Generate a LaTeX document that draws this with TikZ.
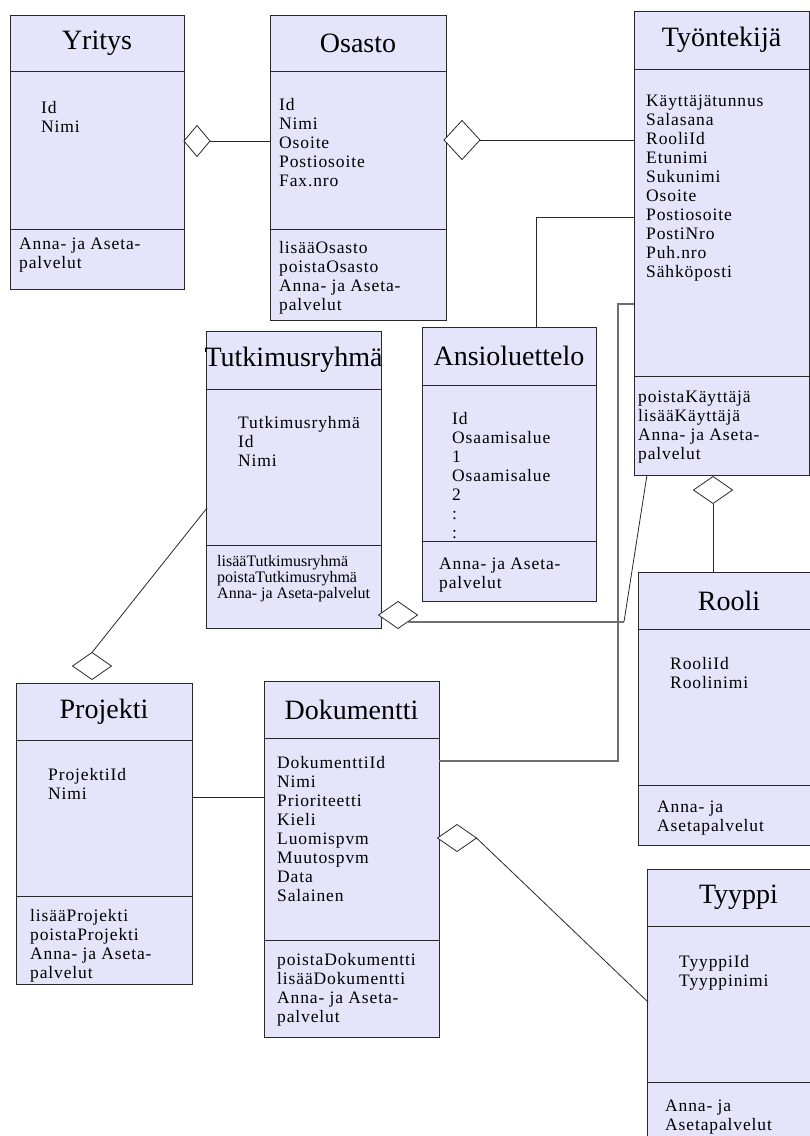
\documentclass[tikz,border=0pt]{standalone}
\usepackage{fontspec}
\setmainfont{Liberation Serif}
\newfontfamily\harva[LetterSpace=5]{Liberation Serif}
\usepackage{tikz}
\usetikzlibrary{positioning,shapes.geometric}
\definecolor{laventeli}{RGB}{228,228,250}
\definecolor{reuna}{RGB}{40,40,40}
\definecolor{harmaa}{RGB}{110,110,110}
\newcommand\otsikkofontti{\fontsize{28}{30}\selectfont}
\newcommand\runkofontti{\harva\fontsize{17.5}{19}\selectfont}
\newcommand\pienifontti{\fontsize{16}{16}\selectfont}
\tikzset{
  otsikko/.style={draw=reuna, fill=laventeli, line width=1pt, inner sep=0pt, outer sep=0pt, anchor=north west, font=\otsikkofontti},
  osio/.style={draw=reuna, fill=laventeli, line width=1pt, inner sep=0pt, outer sep=0pt},
  teksti/.style={anchor=north west, align=left, inner sep=0pt, font=\runkofontti},
  salmiakki/.style={diamond, draw=reuna, fill=white, line width=0.8pt, inner sep=0pt, outer sep=0pt},
  yhteys/.style={draw=reuna, line width=0.8pt},
  yhteysH/.style={draw=harmaa, line width=1.5pt},
}
\begin{document}
\begin{tikzpicture}[x=1pt, y=-1pt]
  \useasboundingbox (0,0) rectangle (810,1136);
  \clip (0,0) rectangle (810,1136);

  \node[otsikko, minimum width=174, minimum height=56] (yritys) at (10,15) {Yritys};
  \node[osio, below=0pt of yritys, minimum width=174, minimum height=158] (yritysA) {};
  \node[osio, below=0pt of yritysA, minimum width=174, minimum height=60] (yritysO) {};
  \node[teksti] (yritysAt) at (41,101) {Id\\Nimi};
  \node[teksti] (yritysOt) at (19,238) {Anna- ja Aseta-\\palvelut};

  \node[otsikko, minimum width=176, minimum height=56] (osasto) at (270,15) {Osasto};
  \node[osio, below=0pt of osasto, minimum width=176, minimum height=158] (osastoA) {};
  \node[osio, below=0pt of osastoA, minimum width=176, minimum height=91] (osastoO) {};
  \node[teksti] (osastoAt) at (279,98) {Id\\Nimi\\Osoite\\Postiosoite\\Fax.nro};
  \node[teksti] (osastoOt) at (279,241) {lisääOsasto\\poistaOsasto\\Anna- ja Aseta-\\palvelut};

  \node[otsikko, minimum width=175, minimum height=58] (tyo) at (634,11) {Työntekijä};
  \node[osio, below=0pt of tyo, minimum width=175, minimum height=307] (tyoA) {};
  \node[osio, below=0pt of tyoA, minimum width=175, minimum height=99] (tyoO) {};
  \node[teksti] (tyoAt) at (646,95) {Käyttäjätunnus\\Salasana\\RooliId\\Etunimi\\Sukunimi\\Osoite\\Postiosoite\\PostiNro\\Puh.nro\\Sähköposti};
  \node[teksti] (tyoOt) at (638,391) {poistaKäyttäjä\\lisääKäyttäjä\\Anna- ja Aseta-\\palvelut};

  \node[otsikko, minimum width=175, minimum height=58] (tut) at (206,331) {\makebox[0pt]{Tutkimusryhmä}};
  \node[osio, below=0pt of tut, minimum width=175, minimum height=156] (tutA) {};
  \node[osio, below=0pt of tutA, minimum width=175, minimum height=83] (tutO) {};
  \node[teksti] (tutAt) at (238,416) {Tutkimusryhmä\\Id\\Nimi};
  \node[teksti, font=\pienifontti] (tutOt) at (217,555) {lisääTutkimusryhmä\\poistaTutkimusryhmä\\Anna- ja Aseta-palvelut};

  \node[otsikko, minimum width=174, minimum height=58] (ansio) at (422,327) {Ansioluettelo};
  \node[osio, below=0pt of ansio, minimum width=174, minimum height=156] (ansioA) {};
  \node[osio, below=0pt of ansioA, minimum width=174, minimum height=60] (ansioO) {};
  \node[teksti] (ansioAt) at (452,412) {Id\\Osaamisalue\\1\\Osaamisalue\\2\\:\\:};
  \node[teksti] (ansioOt) at (439,558) {Anna- ja Aseta-\\palvelut};

  \node[otsikko, minimum width=176, minimum height=57] (proj) at (16,683) {Projekti};
  \node[osio, below=0pt of proj, minimum width=176, minimum height=156] (projA) {};
  \node[osio, below=0pt of projA, minimum width=176, minimum height=88] (projO) {};
  \node[teksti] (projAt) at (48,768) {ProjektiId\\Nimi};
  \node[teksti] (projOt) at (30,909) {lisääProjekti\\poistaProjekti\\Anna- ja Aseta-\\palvelut};

  \node[otsikko, minimum width=175, minimum height=57] (dok) at (264,681) {Dokumentti};
  \node[osio, below=0pt of dok, minimum width=175, minimum height=202] (dokA) {};
  \node[osio, below=0pt of dokA, minimum width=175, minimum height=97] (dokO) {};
  \node[teksti] (dokAt) at (277,756) {DokumenttiId\\Nimi\\Prioriteetti\\Kieli\\Luomispvm\\Muutospvm\\Data\\Salainen};
  \node[teksti] (dokOt) at (277,953) {poistaDokumentti\\lisääDokumentti\\Anna- ja Aseta-\\palvelut};

  \node[otsikko, minimum width=182, minimum height=57] (rooli) at (638,572) {Rooli};
  \node[osio, below=0pt of rooli, minimum width=182, minimum height=156] (rooliA) {};
  \node[osio, below=0pt of rooliA, minimum width=182, minimum height=60] (rooliO) {};
  \node[teksti] (rooliAt) at (670,657) {RooliId\\Roolinimi};
  \node[teksti] (rooliOt) at (657,801) {Anna- ja\\Asetapalvelut};

  \node[otsikko, minimum width=183, minimum height=57] (tyyppi) at (647,869) {Tyyppi};
  \node[osio, below=0pt of tyyppi, minimum width=183, minimum height=156] (tyyppiA) {};
  \node[osio, below=0pt of tyyppiA, minimum width=183, minimum height=80] (tyyppiO) {};
  \node[teksti] (tyyppiAt) at (679,955) {TyyppiId\\Tyyppinimi};
  \node[teksti] (tyyppiOt) at (665,1100) {Anna- ja\\Asetapalvelut};

  \node[salmiakki, minimum width=26, minimum height=31] (s1) at (197,141) {};
  \node[salmiakki, minimum width=36, minimum height=39] (s2) at (462,140) {};
  \node[salmiakki, minimum width=39, minimum height=27] (s5) at (398,615) {};
  \node[salmiakki, minimum width=39, minimum height=27] (s6) at (92,666) {};
  \node[salmiakki, minimum width=39, minimum height=27] (s8) at (457,838) {};
  \node[salmiakki, minimum width=39, minimum height=27] (s9) at (713,490) {};

  \coordinate (k3a) at (536,327);
  \coordinate (k3b) at (634,217);
  \coordinate (k4a) at (634,304);
  \coordinate (k4b) at (618,761);
  \coordinate (k5a) at (624,621);
  \coordinate (k5b) at (647,475);
  \coordinate (k6) at (207,508);
  \coordinate (k7) at (192,797);
  \coordinate (k8) at (648,1002);

  \draw[yhteys] (s1.east) -- (osastoA.west |- s1.east);
  \draw[yhteys] (s2.east) -- (tyoA.west |- s2.east);
  \draw[yhteys] (k3a) |- (k3b);
  \draw[yhteysH] (k4a) -| (k4b) -- (dokA.east |- k4b);
  \draw[yhteysH] (s5.south east) -- (s5.south east -| k5a);
  \draw[yhteys] (s5.south east -| k5a) -- (k5b);
  \draw[yhteys] (k6) -- (s6.north);
  \draw[yhteys] (k7) -- (dokA.west |- k7);
  \draw[yhteys] (s8.east) -- (k8);
  \draw[yhteys] (s9.south) -- (s9.south |- rooli.north);
\end{tikzpicture}
\end{document}
